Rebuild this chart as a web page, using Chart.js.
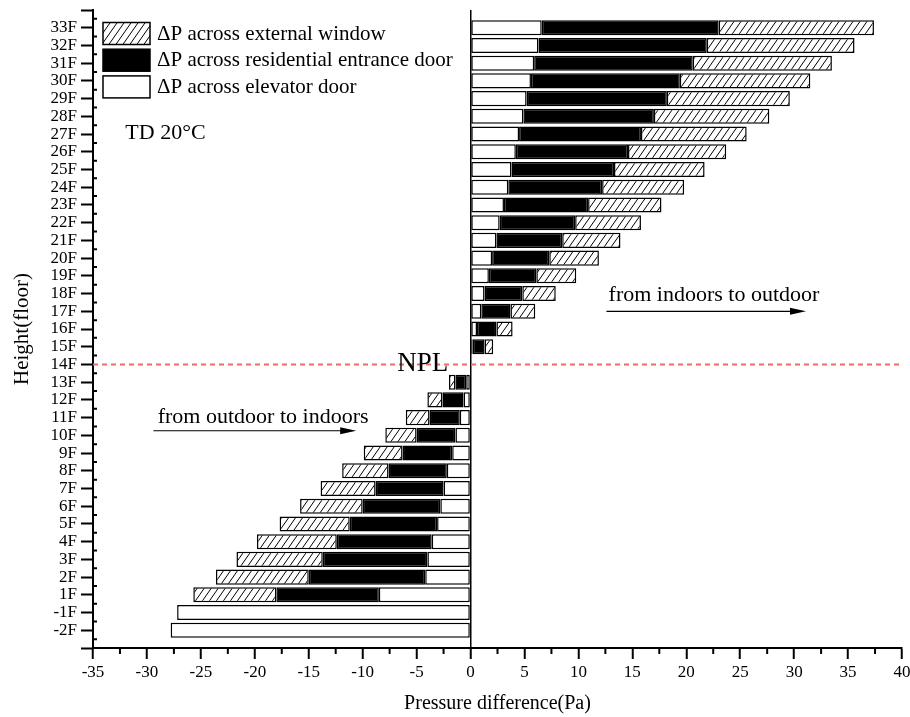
<!DOCTYPE html>
<html>
<head>
<meta charset="utf-8">
<script src="https://cdn.jsdelivr.net/npm/chart.js@4.4.1/dist/chart.umd.min.js"></script>
<style>
html, body { margin: 0; padding: 0; background: #fff; }
</style>
</head>
<body>
<canvas id="grafico" width="910" height="717"></canvas>
<script>
const floors = ['-2F', '-1F', '1F', '2F', '3F', '4F', '5F', '6F', '7F', '8F', '9F', '10F', '11F', '12F', '13F',
    '14F', '15F', '16F', '17F', '18F', '19F', '20F', '21F', '22F', '23F', '24F', '25F', '26F', '27F', '28F',
    '29F', '30F', '31F', '32F', '33F'];

// pressure difference across each element (Pa), same order as floors
const elevatorDoor = [-27.8, -27.2, -8.5, -4.2, -4.0, -3.6, -3.1, -2.8, -2.5, -2.2, -1.7, -1.4, -1.0, -0.65, -0.4,
    null, 0.2, 0.6, 1.0, 1.3, 1.7, 2.0, 2.4, 2.7, 3.1, 3.5, 3.8, 4.2, 4.5, 4.9, 5.2, 5.6, 5.9, 6.3, 6.6];
const entranceDoor = [null, null, -9.5, -10.8, -9.7, -8.8, -8.1, -7.2, -6.3, -5.4, -4.6, -3.6, -2.8, -1.95, -1.0,
    null, 1.1, 1.8, 2.7, 3.5, 4.4, 5.3, 6.1, 7.0, 7.8, 8.7, 9.5, 10.4, 11.3, 12.1, 13.0, 13.8, 14.7, 15.6, 16.4];
const externalWindow = [null, null, -7.7, -8.6, -8.0, -7.4, -6.5, -5.8, -5.1, -4.3, -3.6, -2.9, -2.2, -1.4, -0.6,
    null, 0.8, 1.5, 2.3, 3.1, 3.7, 4.6, 5.4, 6.1, 6.8, 7.6, 8.4, 9.1, 9.8, 10.7, 11.4, 12.1, 12.9, 13.7, 14.4];

const xTicks = { min: -35, max: 40, step: 5 };
const nplFloor = '14F';

const serif = "'Liberation Serif', 'Times New Roman', serif";
const canvas = document.getElementById('grafico');
const ctx = canvas.getContext('2d');

// padrao de hachura "/" para a janela externa
function hatchPattern() {
    const w = 7, h = 10;
    const c = document.createElement('canvas');
    c.width = w; c.height = h;
    const g = c.getContext('2d');
    g.fillStyle = '#fff';
    g.fillRect(0, 0, w, h);
    g.strokeStyle = '#000';
    g.lineWidth = 1;
    g.beginPath();
    g.moveTo(0, h); g.lineTo(w, 0);
    g.moveTo(-w, h); g.lineTo(0, 0);
    g.moveTo(w, h); g.lineTo(2 * w, 0);
    g.stroke();
    return ctx.createPattern(c, 'repeat');
}

// empty slot above and below, like the original axis
const labels = [''].concat(floors, ['']);
const pad = arr => [null].concat(arr, [null]);

const notes = [
    { text: 'TD 20\u00B0C', x: -32.0, y: 28.7, size: 22 },
    { text: 'from indoors to outdoor', x: 12.8, y: 19.6, size: 22 },
    { text: 'from outdoor to indoors', x: -29.0, y: 12.7, size: 22 },
    { text: 'NPL', x: -6.8, y: 15.62, size: 27 }
];
const arrows = [
    { x1: 12.6, x2: 31.1, y: 19.0 },
    { x1: -29.4, x2: -10.6, y: 12.26 }
];

const extras = {
    id: 'extras',
    afterDraw(chart) {
        const { ctx, chartArea: a, scales: { x, y } } = chart;
        ctx.save();

        // minor ticks
        ctx.strokeStyle = '#000';
        ctx.lineWidth = 2;
        ctx.beginPath();
        for (let v = xTicks.min + 2.5; v < xTicks.max; v += 5) {
            const px = x.getPixelForValue(v);
            ctx.moveTo(px, a.bottom);
            ctx.lineTo(px, a.bottom + 6);
        }
        for (let i = 0.5; i < labels.length - 1; i += 1) {
            const py = y.getPixelForValue(i);
            ctx.moveTo(a.left, py);
            ctx.lineTo(a.left + 4, py);
        }
        ctx.stroke();

        // linha NPL
        const ny = y.getPixelForValue(labels.indexOf(nplFloor));
        ctx.strokeStyle = '#f06a6a';
        ctx.lineWidth = 2;
        ctx.setLineDash([5, 4]);
        ctx.beginPath();
        ctx.moveTo(a.left, ny);
        ctx.lineTo(a.right, ny);
        ctx.stroke();
        ctx.setLineDash([]);

        // textos
        ctx.fillStyle = '#000';
        ctx.textBaseline = 'alphabetic';
        ctx.textAlign = 'left';
        notes.forEach(n => {
            ctx.font = n.size + 'px ' + serif;
            ctx.fillText(n.text, x.getPixelForValue(n.x), y.getPixelForValue(n.y));
        });

        // setas
        ctx.strokeStyle = '#000';
        ctx.lineWidth = 1.2;
        arrows.forEach(r => {
            const x1 = x.getPixelForValue(r.x1), x2 = x.getPixelForValue(r.x2), py = y.getPixelForValue(r.y);
            ctx.beginPath();
            ctx.moveTo(x1, py);
            ctx.lineTo(x2 - 12, py);
            ctx.stroke();
            ctx.beginPath();
            ctx.moveTo(x2, py);
            ctx.lineTo(x2 - 16, py - 3.5);
            ctx.lineTo(x2 - 16, py + 3.5);
            ctx.closePath();
            ctx.fill();
        });

        // legenda
        const ds = chart.data.datasets;
        const order = [2, 1, 0];
        ctx.font = '21px ' + serif;
        ctx.textBaseline = 'middle';
        order.forEach((di, k) => {
            const bx = a.left + 10, by = a.top + 12.5 + k * 26.7;
            ctx.fillStyle = ds[di].backgroundColor;
            ctx.fillRect(bx, by, 47, 22);
            ctx.strokeStyle = '#000';
            ctx.lineWidth = 1.5;
            ctx.strokeRect(bx, by, 47, 22);
            ctx.fillStyle = '#000';
            ctx.fillText(ds[di].label, bx + 54, by + 11.5);
        });
        ctx.restore();
    }
};

const barStyle = {
    borderColor: '#000',
    borderWidth: 1.5,
    borderSkipped: false,
    barPercentage: 0.85,
    categoryPercentage: 1
};

window.dashboardChart = new Chart(ctx, {
    type: 'bar',
    data: {
        labels: labels,
        datasets: [
            Object.assign({ label: '\u0394P across elevator door', data: pad(elevatorDoor), backgroundColor: '#fff' }, barStyle),
            Object.assign({ label: '\u0394P across residential entrance door', data: pad(entranceDoor), backgroundColor: '#000' }, barStyle),
            Object.assign({ label: '\u0394P across external window', data: pad(externalWindow), backgroundColor: hatchPattern() }, barStyle)
        ]
    },
    options: {
        indexAxis: 'y',
        responsive: false,
        animation: false,
        devicePixelRatio: 1,
        layout: { padding: { top: 10, right: 8, left: 0, bottom: 0 } },
        plugins: { legend: { display: false }, tooltip: { enabled: false } },
        scales: {
            x: {
                type: 'linear',
                stacked: true,
                min: xTicks.min,
                max: xTicks.max,
                ticks: { stepSize: xTicks.step, color: '#000', font: { family: serif, size: 17 }, padding: 3, maxRotation: 0 },
                grid: {
                    color: c => (c.tick && c.tick.value === 0) ? '#000' : 'rgba(0,0,0,0)',
                    lineWidth: 1.5,
                    tickColor: '#000',
                    tickLength: 11,
                    tickWidth: 2
                },
                border: { color: '#000', width: 2 },
                title: { display: true, text: 'Pressure difference(Pa)', color: '#000', font: { family: serif, size: 20 }, padding: { top: 0, bottom: 1 } },
                afterFit: s => { s.height = 69; s.paddingLeft = 0; s.paddingRight = 0; }
            },
            y: {
                type: 'category',
                stacked: true,
                reverse: true,
                offset: false,
                ticks: { autoSkip: false, color: '#000', font: { family: serif, size: 17 }, padding: 4 },
                grid: { offset: false, drawOnChartArea: false, tickColor: '#000', tickLength: 12, tickWidth: 2 },
                border: { color: '#000', width: 2 },
                title: { display: true, text: 'Height(floor)', color: '#000', font: { family: serif, size: 21 }, padding: { top: 10, bottom: 0 } },
                afterFit: s => { s.width = 93; s.paddingTop = 0; s.paddingBottom = 0; }
            }
        }
    },
    plugins: [extras]
});
</script>
</body>
</html>
